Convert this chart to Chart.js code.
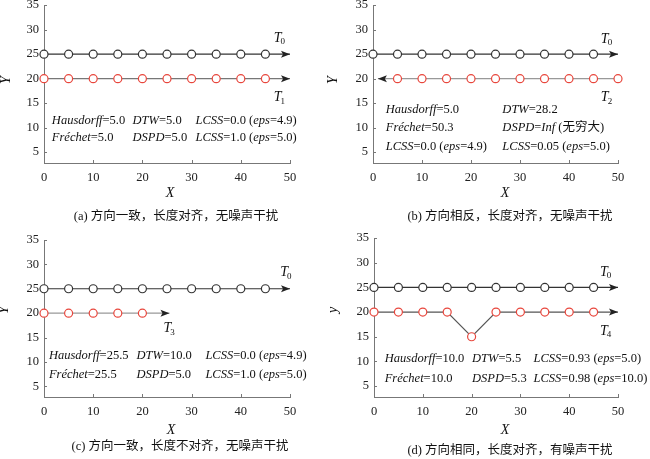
<!DOCTYPE html>
<html>
<head>
<meta charset="utf-8">
<script src="https://cdn.jsdelivr.net/npm/chart.js@4.4.1/dist/chart.umd.min.js"></script>
<style>
    body { margin: 0; background: #fff; width: 650px; height: 459px; position: relative; overflow: hidden; }
    canvas { position: absolute; }
</style>
</head>
<body>
<canvas id="chartA" width="325" height="230" style="left:0;top:0"></canvas>
<canvas id="chartB" width="325" height="230" style="left:325px;top:0"></canvas>
<canvas id="chartC" width="325" height="230" style="left:0;top:230px"></canvas>
<canvas id="chartD" width="325" height="230" style="left:325px;top:230px"></canvas>
<script>
/* tick labels */
var xTicks = [0, 10, 20, 30, 40, 50];
var yTicks = [5, 10, 15, 20, 25, 30, 35];

/* trajectories, last point of each is the arrow tip */
var t0X = [0, 5, 10, 15, 20, 25, 30, 35, 40, 45, 50];
var t0Y = [25, 25, 25, 25, 25, 25, 25, 25, 25, 25, 25];
var t1X = [0, 5, 10, 15, 20, 25, 30, 35, 40, 45, 50];
var t1Y = [20, 20, 20, 20, 20, 20, 20, 20, 20, 20, 20];
var t2X = [50, 45, 40, 35, 30, 25, 20, 15, 10, 5, 1];
var t2Y = [20, 20, 20, 20, 20, 20, 20, 20, 20, 20, 20];
var t3X = [0, 5, 10, 15, 20, 25.5];
var t3Y = [20, 20, 20, 20, 20, 20];
var t4X = [0, 5, 10, 15, 20, 25, 30, 35, 40, 45, 50];
var t4Y = [20, 20, 20, 20, 15, 20, 20, 20, 20, 20, 20];

/* metric texts, *...* is italic */
var textsA = [
    ['*Hausdorff*=5.0', '*DTW*=5.0', '*LCSS*=0.0 (*eps*=4.9)'],
    ['*Fréchet*=5.0', '*DSPD*=5.0', '*LCSS*=1.0 (*eps*=5.0)']
];
var textsB = [
    ['*Hausdorff*=5.0', '*DTW*=28.2'],
    ['*Fréchet*=50.3', '*DSPD*=*Inf* (无穷大)'],
    ['*LCSS*=0.0 (*eps*=4.9)', '*LCSS*=0.05 (*eps*=5.0)']
];
var textsC = [
    ['*Hausdorff*=25.5', '*DTW*=10.0', '*LCSS*=0.0 (*eps*=4.9)'],
    ['*Fréchet*=25.5', '*DSPD*=5.0', '*LCSS*=1.0 (*eps*=5.0)']
];
var textsD = [
    ['*Hausdorff*=10.0', '*DTW*=5.5', '*LCSS*=0.93 (*eps*=5.0)'],
    ['*Fréchet*=10.0', '*DSPD*=5.3', '*LCSS*=0.98 (*eps*=10.0)']
];

var captions = [
    '(a) 方向一致，长度对齐，无噪声干扰',
    '(b) 方向相反，长度对齐，无噪声干扰',
    '(c) 方向一致，长度不对齐，无噪声干扰',
    '(d) 方向相同，长度对齐，有噪声干扰'
];

var FAMILY = '"Liberation Serif", "Noto Sans CJK SC", serif';
var RED = '#e8463c';

function font(size, italic) {
    return (italic ? 'italic ' : '') + size + 'px ' + FAMILY;
}

function zip(xs, ys) {
    return xs.map(function(x, i) { return { x: x, y: ys[i] }; });
}

function drawRich(ctx, str, x, y, size) {
    var parts = str.split('*');
    ctx.textAlign = 'left';
    ctx.textBaseline = 'middle';
    parts.forEach(function(p, i) {
        if (!p) return;
        ctx.font = font(size, i % 2 === 1);
        ctx.fillText(p, x, y);
        x += ctx.measureText(p).width;
    });
}

function series(xs, ys, lineColor, markColor) {
    var n = xs.length;
    return {
        data: zip(xs, ys),
        borderColor: lineColor,
        borderWidth: 1.2,
        pointRadius: function(c) { return c.dataIndex === n - 1 ? 0 : 4; },
        pointBackgroundColor: '#fff',
        pointBorderColor: markColor,
        pointBorderWidth: 1.2,
        pointHoverRadius: 0,
        tension: 0,
        clip: false
    };
}

var decorPlugin = {
    id: 'decor',
    beforeDatasetsDraw: function(chart) {
        var ctx = chart.ctx, a = chart.chartArea;
        var xs = chart.scales.x, ys = chart.scales.y;
        ctx.save();
        ctx.strokeStyle = '#777';
        ctx.lineWidth = 1;
        ys.ticks.forEach(function(t) {
            var py = Math.round(ys.getPixelForValue(t.value)) + 0.5;
            ctx.beginPath();
            ctx.moveTo(a.left, py);
            ctx.lineTo(a.left + 3, py);
            ctx.stroke();
        });
        xs.ticks.forEach(function(t) {
            var px = Math.round(xs.getPixelForValue(t.value)) + 0.5;
            ctx.beginPath();
            ctx.moveTo(px, a.bottom);
            ctx.lineTo(px, a.bottom - 3);
            ctx.stroke();
        });
        ctx.restore();
    },
    afterDatasetsDraw: function(chart) {
        var ctx = chart.ctx;
        ctx.save();
        ctx.fillStyle = '#222';
        chart.data.datasets.forEach(function(ds, i) {
            var pts = chart.getDatasetMeta(i).data;
            var tip = pts[pts.length - 1], prev = pts[pts.length - 2];
            var ang = Math.atan2(tip.y - prev.y, tip.x - prev.x);
            ctx.save();
            ctx.translate(tip.x, tip.y);
            ctx.rotate(ang);
            ctx.beginPath();
            ctx.moveTo(0, 0);
            ctx.lineTo(-9, -3.5);
            ctx.lineTo(-7, 0);
            ctx.lineTo(-9, 3.5);
            ctx.closePath();
            ctx.fill();
            ctx.restore();
        });
        ctx.restore();
    },
    afterDraw: function(chart) {
        var o = chart.options.plugins.decor;
        var ctx = chart.ctx;
        var xs = chart.scales.x, ys = chart.scales.y;
        ctx.save();
        ctx.fillStyle = '#111';
        /* metric text block */
        o.texts.forEach(function(row, r) {
            row.forEach(function(str, c) {
                drawRich(ctx, str, xs.getPixelForValue(o.cols[c]), ys.getPixelForValue(o.rows[r]), 12.5);
            });
        });
        /* trajectory names */
        o.names.forEach(function(n) {
            var px = xs.getPixelForValue(n.x), py = ys.getPixelForValue(n.y);
            ctx.textAlign = 'left';
            ctx.textBaseline = 'middle';
            ctx.font = font(14, true);
            ctx.fillText('T', px, py);
            var w = ctx.measureText('T').width;
            ctx.font = font(9, false);
            ctx.fillText(n.sub, px + w - 1, py + 4);
        });
        /* axis titles */
        ctx.textAlign = 'center';
        ctx.textBaseline = 'middle';
        ctx.font = font(14, true);
        ctx.fillText('X', o.xLabel[0], o.xLabel[1]);
        ctx.save();
        ctx.translate(o.yLabel[0], o.yLabel[1]);
        ctx.rotate(-Math.PI / 2);
        ctx.fillText(o.yName, 0, 0);
        ctx.restore();
        /* caption */
        ctx.font = font(12.5, false);
        ctx.fillText(o.caption, o.capPos[0], o.capPos[1]);
        ctx.restore();
    }
};

function makeChart(id, cfg) {
    var tickFont = { family: FAMILY, size: 12.5 };
    return new Chart(document.getElementById(id), {
        type: 'line',
        data: { datasets: cfg.datasets },
        options: {
            responsive: false,
            animation: false,
            events: [],
            layout: { padding: { left: 0, top: cfg.top, right: 325 - cfg.right, bottom: 0 } },
            scales: {
                x: {
                    type: 'linear',
                    min: 0,
                    max: 50,
                    afterBuildTicks: function(s) { s.ticks = xTicks.map(function(v) { return { value: v }; }); },
                    afterFit: function(s) { s.height = 230 - cfg.bottom; s.paddingLeft = 0; s.paddingRight = 0; },
                    grid: { display: false, drawTicks: false },
                    border: { color: '#777', width: 1 },
                    ticks: { font: tickFont, color: '#222', padding: 7, maxRotation: 0 }
                },
                y: {
                    type: 'linear',
                    min: 2.8,
                    max: 35,
                    afterBuildTicks: function(s) { s.ticks = yTicks.map(function(v) { return { value: v }; }); },
                    afterFit: function(s) { s.width = cfg.left; s.paddingTop = 0; s.paddingBottom = 0; },
                    grid: { display: false, drawTicks: false },
                    border: { color: '#777', width: 1 },
                    ticks: { font: tickFont, color: '#222', padding: 5 }
                }
            },
            plugins: {
                legend: { display: false },
                tooltip: { enabled: false },
                decor: {
                    texts: cfg.texts,
                    cols: cfg.cols,
                    rows: cfg.rows,
                    names: cfg.names,
                    xLabel: cfg.xLabel,
                    yLabel: cfg.yLabel,
                    yName: cfg.yName,
                    caption: cfg.caption,
                    capPos: cfg.capPos
                }
            }
        },
        plugins: [decorPlugin]
    });
}

makeChart('chartA', {
    left: 44, right: 290, top: 5, bottom: 163,
    datasets: [series(t0X, t0Y, '#333', '#333'), series(t1X, t1Y, '#777', RED)],
    texts: textsA, cols: [1.6, 18, 30.8], rows: [11.5, 7.9],
    names: [{ x: 46.7, y: 28.3, sub: '0' }, { x: 46.7, y: 16.2, sub: '1' }],
    xLabel: [170, 193], yLabel: [6, 80], yName: 'Y',
    caption: captions[0], capPos: [176, 217]
});

makeChart('chartB', {
    left: 48, right: 293, top: 5, bottom: 163,
    datasets: [series(t0X, t0Y, '#333', '#333'), series(t2X, t2Y, '#999', RED)],
    texts: textsB, cols: [2.6, 26.4], rows: [13.6, 9.9, 6.2],
    names: [{ x: 46.5, y: 28.1, sub: '0' }, { x: 46.5, y: 16.2, sub: '2' }],
    xLabel: [180, 193], yLabel: [8, 80], yName: 'Y',
    caption: captions[1], capPos: [185, 217]
});

makeChart('chartC', {
    left: 44, right: 290, top: 10, bottom: 167,
    datasets: [series(t0X, t0Y, '#333', '#333'), series(t3X, t3Y, '#999', RED)],
    texts: textsC, cols: [1.0, 18.8, 32.8], rows: [11.3, 7.4],
    names: [{ x: 48, y: 28.3, sub: '0' }, { x: 24.3, y: 16.8, sub: '3' }],
    xLabel: [171, 200], yLabel: [4, 80], yName: 'Y',
    caption: captions[2], capPos: [180, 217]
});

makeChart('chartD', {
    left: 49, right: 293, top: 8, bottom: 167,
    datasets: [series(t0X, t0Y, '#333', '#333'), series(t4X, t4Y, '#555', RED)],
    texts: textsD, cols: [2.2, 20.1, 32.7], rows: [10.5, 6.6],
    names: [{ x: 46.3, y: 28.1, sub: '0' }, { x: 46.3, y: 16.2, sub: '4' }],
    xLabel: [180, 200], yLabel: [8, 80], yName: 'y',
    caption: captions[3], capPos: [185, 221]
});
</script>
</body>
</html>
